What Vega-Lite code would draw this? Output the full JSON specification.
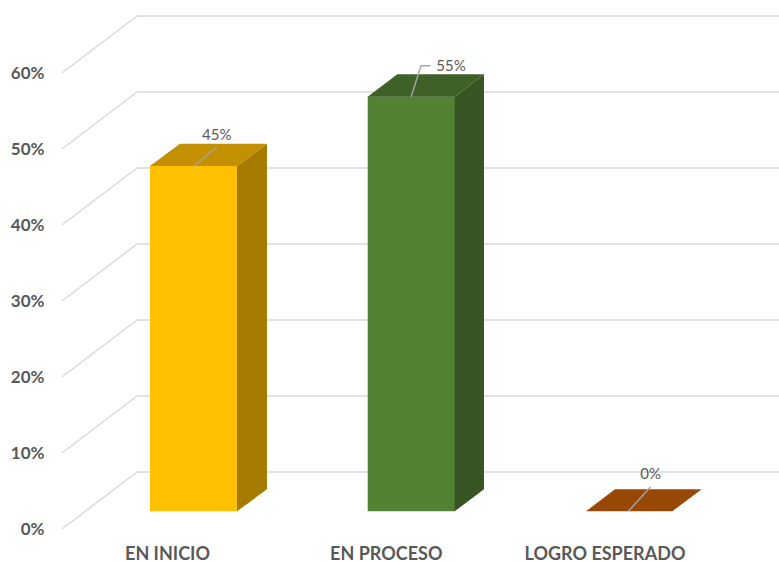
{
"$schema":"https://vega.github.io/schema/vega-lite/v6.json",
"width":717,"height":513,
"autosize":{"type":"none"},
"padding":{"left":62,"top":16,"right":0,"bottom":33},
"background":"white",
"config":{"view":{"stroke":null},"font":"Lato"},
"layer":[
{"data":{"values":[
{"level":0,"x":0.52,"x2":0.8629,"y":0,"y2":7.5},
{"level":10,"x":0.52,"x2":0.8629,"y":10,"y2":17.5},
{"level":20,"x":0.52,"x2":0.8629,"y":20,"y2":27.5},
{"level":30,"x":0.52,"x2":0.8629,"y":30,"y2":37.5},
{"level":40,"x":0.52,"x2":0.8629,"y":40,"y2":47.5},
{"level":50,"x":0.52,"x2":0.8629,"y":50,"y2":57.5},
{"level":60,"x":0.52,"x2":0.8629,"y":60,"y2":67.5},
{"level":0,"x":0.8629,"x2":3.7977,"y":7.5,"y2":7.5},
{"level":10,"x":0.8629,"x2":3.7977,"y":17.5,"y2":17.5},
{"level":20,"x":0.8629,"x2":3.7977,"y":27.5,"y2":27.5},
{"level":30,"x":0.8629,"x2":3.7977,"y":37.5,"y2":37.5},
{"level":40,"x":0.8629,"x2":3.7977,"y":47.5,"y2":47.5},
{"level":50,"x":0.8629,"x2":3.7977,"y":57.5,"y2":57.5},
{"level":60,"x":0.8629,"x2":3.7977,"y":67.5,"y2":67.5}
]},
"mark":{"type":"rule","color":"#D9D9D9","strokeWidth":1.4},
"encoding":{
"x":{"field":"x","type":"quantitative","scale":{"domain":[0.52,3.7977],"nice":false,"zero":false},
"axis":{"title":null,"values":[1,2,3],"grid":false,"domain":false,"ticks":false,"labelPadding":25,"labelFontSize":18,"labelFontWeight":"bold","labelColor":"#595959","labelBaseline":"middle","labelExpr":"datum.value==1?'EN INICIO':datum.value==2?'EN PROCESO':'LOGRO ESPERADO'"}},
"x2":{"field":"x2"},
"y":{"field":"y","type":"quantitative","scale":{"domain":[0,67.5],"nice":false,"zero":false},
"axis":{"title":null,"values":[0,10,20,30,40,50,60],"grid":false,"domain":false,"ticks":false,"labelPadding":18,"labelFontSize":17,"labelFontWeight":"bold","labelColor":"#595959","labelExpr":"datum.value+'%'"}},
"y2":{"field":"y2"}
}},
{"data":{"values":[
{"face":"inicio-frente","x":0.9223,"y":2.33,"y2":47.8},
{"face":"inicio-frente","x":1.322,"y":2.33,"y2":47.8},
{"face":"inicio-lado","x":1.32,"y":2.33,"y2":47.76},
{"face":"inicio-lado","x":1.4571,"y":5.22,"y2":50.7},
{"face":"inicio-tapa","x":0.9223,"y":47.76,"y2":47.76},
{"face":"inicio-tapa","x":1.0594,"y":47.76,"y2":50.7},
{"face":"inicio-tapa","x":1.32,"y":47.76,"y2":50.7},
{"face":"inicio-tapa","x":1.4571,"y":50.7,"y2":50.7},
{"face":"proceso-frente","x":1.9175,"y":2.33,"y2":56.92},
{"face":"proceso-frente","x":2.3172,"y":2.33,"y2":56.92},
{"face":"proceso-lado","x":2.3152,"y":2.33,"y2":56.88},
{"face":"proceso-lado","x":2.4491,"y":5.22,"y2":59.83},
{"face":"proceso-tapa","x":1.9175,"y":56.88,"y2":56.88},
{"face":"proceso-tapa","x":2.0528,"y":56.88,"y2":59.83},
{"face":"proceso-tapa","x":2.3152,"y":56.88,"y2":59.83},
{"face":"proceso-tapa","x":2.4491,"y":59.83,"y2":59.83},
{"face":"logro-tapa","x":2.9154,"y":2.33,"y2":2.33},
{"face":"logro-tapa","x":3.048,"y":2.33,"y2":5.22},
{"face":"logro-tapa","x":3.31,"y":2.33,"y2":5.22},
{"face":"logro-tapa","x":3.4444,"y":5.22,"y2":5.22}
]},
"mark":{"type":"area","interpolate":"linear","opacity":1},
"encoding":{
"x":{"field":"x","type":"quantitative"},
"y":{"field":"y","type":"quantitative"},
"y2":{"field":"y2"},
"color":{"field":"face","type":"nominal","legend":null,"scale":{
"domain":["inicio-lado","inicio-tapa","inicio-frente","proceso-lado","proceso-tapa","proceso-frente","logro-tapa"],
"range":["#A67C00","#C29000","#FFC000","#375623","#3F6128","#548235","#974706"]}}
}},
{"data":{"values":[
{"serie":"EN INICIO","x":1.1234,"y":47.76},
{"serie":"EN INICIO","x":1.2272,"y":50.22},
{"serie":"EN PROCESO","x":2.1154,"y":56.84},
{"serie":"EN PROCESO","x":2.1611,"y":60.96},
{"serie":"EN PROCESO","x":2.2055,"y":60.96},
{"serie":"LOGRO ESPERADO","x":3.1088,"y":2.33},
{"serie":"LOGRO ESPERADO","x":3.2112,"y":5.57}
]},
"mark":{"type":"line","color":"#A6A6A6","strokeWidth":1.4},
"encoding":{
"x":{"field":"x","type":"quantitative"},
"y":{"field":"y","type":"quantitative"},
"detail":{"field":"serie"}
}},
{"data":{"values":[
{"label":"45%","x":1.2272,"y":51.84},
{"label":"55%","x":2.2983,"y":60.96},
{"label":"0%","x":3.2112,"y":7.2}
]},
"mark":{"type":"text","fontSize":15,"color":"#595959","align":"center","baseline":"middle"},
"encoding":{
"x":{"field":"x","type":"quantitative"},
"y":{"field":"y","type":"quantitative"},
"text":{"field":"label"}
}}
]
}
